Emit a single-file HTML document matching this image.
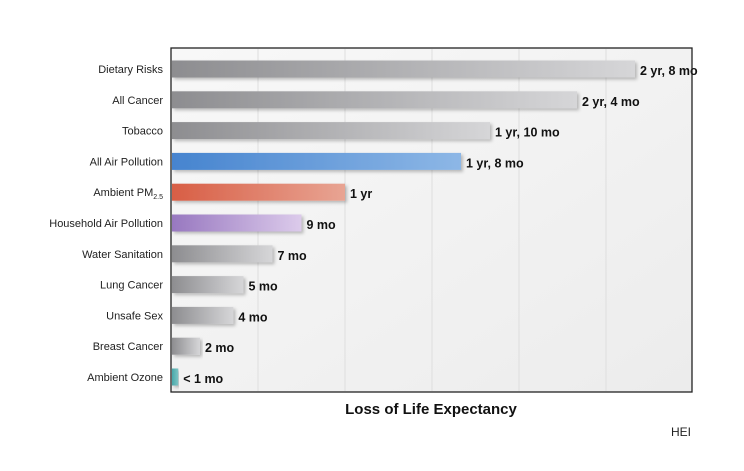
<!DOCTYPE html>
<html><head><meta charset="utf-8"><style>
body{margin:0;background:#fff;}
svg{display:block;font-family:"Liberation Sans",sans-serif;}
</style></head><body>
<svg id="chart" width="744" height="471">
<defs>
<linearGradient id="bg" x1="0" y1="0" x2="1" y2="1"><stop offset="0" stop-color="#f8f8f8"/><stop offset="1" stop-color="#ececec"/></linearGradient>
<linearGradient id="g-gray" x1="0" x2="1"><stop offset="0" stop-color="#8d8d90"/><stop offset="1" stop-color="#d6d6d8"/></linearGradient>
<linearGradient id="g-blue" x1="0" x2="1"><stop offset="0" stop-color="#4684cf"/><stop offset="1" stop-color="#8db7e6"/></linearGradient>
<linearGradient id="g-red" x1="0" x2="1"><stop offset="0" stop-color="#d85e45"/><stop offset="1" stop-color="#e8a493"/></linearGradient>
<linearGradient id="g-purple" x1="0" x2="1"><stop offset="0" stop-color="#9878c0"/><stop offset="1" stop-color="#dccbeb"/></linearGradient>
<linearGradient id="g-teal" x1="0" x2="1"><stop offset="0" stop-color="#4aa8aa"/><stop offset="1" stop-color="#7cc4c4"/></linearGradient>
<filter id="sh" x="-5%" y="-40%" width="115%" height="180%"><feDropShadow dx="2" dy="2" stdDeviation="1.5" flood-color="#000" flood-opacity="0.25"/></filter>
</defs>
<rect x="171" y="48" width="521" height="344" fill="url(#bg)"/>
<g id="grid"></g>
<g id="bars"></g>
<rect x="171" y="48" width="521" height="344" fill="none" stroke="#222" stroke-width="1.3"/>
<text x="431" y="414" text-anchor="middle" font-size="15" font-weight="bold" fill="#111">Loss of Life Expectancy</text>
<text x="681" y="436" text-anchor="middle" font-size="12" fill="#222">HEI</text>
</svg>
<script>
const categories=["Dietary Risks","All Cancer","Tobacco","All Air Pollution","Ambient PM2.5","Household Air Pollution","Water Sanitation","Lung Cancer","Unsafe Sex","Breast Cancer","Ambient Ozone"];
const months=[32,28,22,20,12,9,7,5,4.3,2,0.5];
const valueLabels=["2 yr, 8 mo","2 yr, 4 mo","1 yr, 10 mo","1 yr, 8 mo","1 yr","9 mo","7 mo","5 mo","4 mo","2 mo","< 1 mo"];
const fills=["gray","gray","gray","blue","red","purple","gray","gray","gray","gray","teal"];
const gridMonths=[6,12,18,24,30];
const NS="http://www.w3.org/2000/svg";
const x0=171,pxPerMonth=14.5,y0=69,rowStep=30.8,barH=17;
const xS=m=>x0+m*pxPerMonth;
const yS=i=>y0+i*rowStep;
function mk(t,a){const e=document.createElementNS(NS,t);for(const k in a)e.setAttribute(k,a[k]);return e;}
const grid=document.getElementById('grid'),bars=document.getElementById('bars'),svg=document.getElementById('chart');
gridMonths.forEach(m=>{const l=mk('line',{x1:xS(m),x2:xS(m),y1:49,y2:391,stroke:'#dedede','stroke-width':1});


grid.appendChild(l);});
categories.forEach((c,i)=>{
const y=yS(i);
const r=mk('rect',{x:x0+1,y:y-barH/2,width:Math.max(xS(months[i])-x0-1,1),height:barH,fill:'url(#g-'+fills[i]+')',filter:'url(#sh)'});


bars.appendChild(r);
const v=mk('text',{x:xS(months[i])+5,y:y+6,'font-size':12.5,'font-weight':'bold',fill:'#111'});
v.textContent=valueLabels[i];


bars.appendChild(v);
const t=mk('text',{x:163,y:y+4,'text-anchor':'end','font-size':11,fill:'#222'});
if(c==="Ambient PM2.5"){t.textContent="Ambient PM";const s=mk('tspan',{'font-size':7,dy:3});s.textContent="2.5";t.appendChild(s);}
else t.textContent=c;


svg.appendChild(t);
});
</script>
</body></html>
